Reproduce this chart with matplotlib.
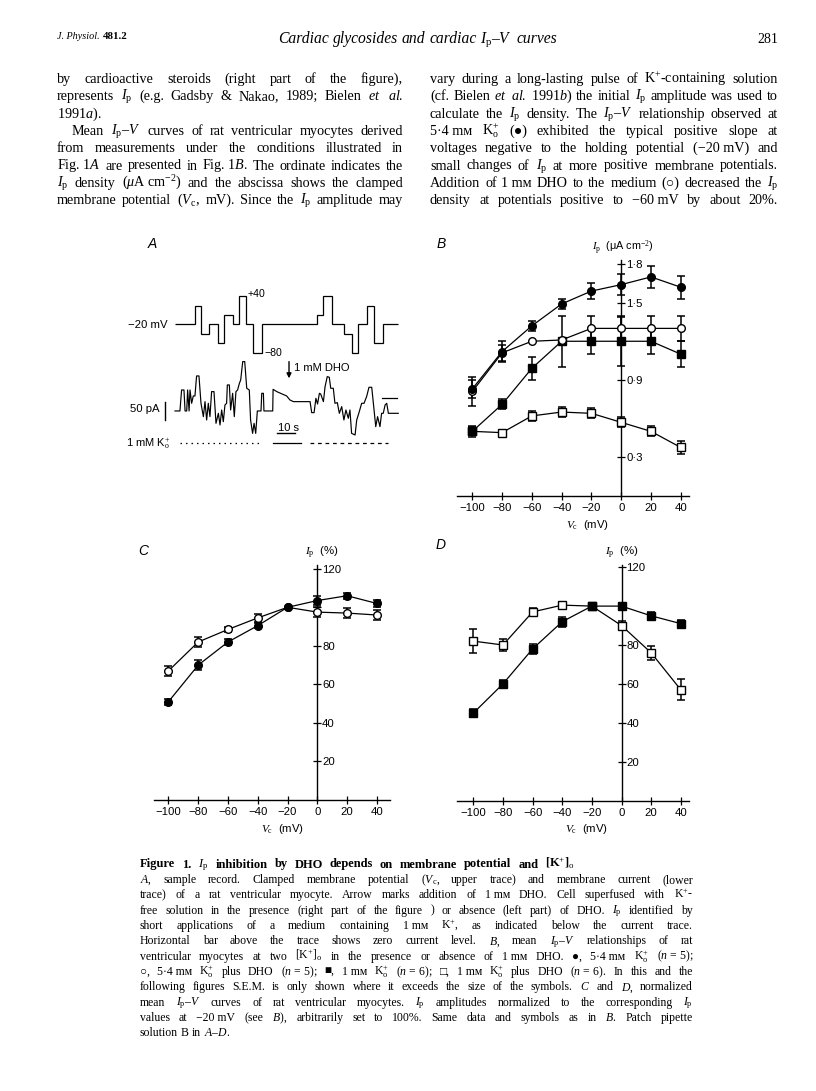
import numpy as np
import matplotlib
matplotlib.use('Agg')
import matplotlib.pyplot as plt

W, H = 816, 1091
SERIF = ['Liberation Serif', 'DejaVu Serif', 'DejaVu Sans']
SANS = ['Liberation Sans', 'DejaVu Sans']
plt.rcParams.update({
    'font.family': SERIF,
    'mathtext.fontset': 'custom',
    'mathtext.rm': 'Liberation Serif',
    'mathtext.it': 'Liberation Serif:italic',
    'mathtext.bf': 'Liberation Serif:bold',
    'mathtext.sf': 'Liberation Sans',
    'mathtext.default': 'it',
    'axes.unicode_minus': True,
})

# ------------------------------------------------------------------ data
vc_mv = [-100, -80, -60, -40, -20, 0, 20, 40]
vc_labels = ['\u2212100', '\u221280', '\u221260', '\u221240', '\u221220', '0', '20', '40']

# Panel B: Ip density (uA cm-2)
b_k54 = [0.83, 1.12, 1.32, 1.49, 1.59, 1.64, 1.70, 1.62]
b_k54_err = [0.07, 0.08, 0.04, 0.04, 0.06, 0.08, 0.085, 0.09]
b_k54_dho = [0.81, 1.11, 1.20, 1.21, 1.30, 1.30, 1.30, 1.30]
b_k54_dho_err = [0.11, 0.06, 0.0, 0.0, 0.10, 0.10, 0.10, 0.10]
b_k1 = [0.50, 0.71, 0.99, 1.20, 1.20, 1.20, 1.20, 1.10]
b_k1_err = [0.045, 0.04, 0.09, 0.20, 0.10, 0.19, 0.10, 0.10]
b_k1_dho = [0.50, 0.49, 0.62, 0.65, 0.64, 0.57, 0.50, 0.375]
b_k1_dho_err = [0.03, 0.0, 0.04, 0.04, 0.04, 0.04, 0.04, 0.05]
b_yticks = [0.3, 0.6, 0.9, 1.2, 1.5, 1.8]
b_yticklabels = ['0\u00b73', '', '0\u00b79', '', '1\u00b75', '1\u00b78']

# Panel C: normalized, 5.4 mM K+
c_k54 = [51, 70, 82, 90.5, 100, 103.5, 106, 102]
c_k54_err = [1.5, 2.5, 1.5, 1.5, 0, 2.5, 1.5, 2]
c_k54_dho = [67, 82, 88.5, 94.5, 100, 97.5, 97, 96]
c_k54_dho_err = [2.5, 2.5, 1.5, 2, 0, 2.5, 2.5, 2.5]
# Panel D: normalized, 1 mM K+
d_k1 = [45, 60, 78, 92, 100, 100, 95, 91]
d_k1_err = [2, 2, 2.5, 2.5, 0, 0, 2, 2]
d_k1_dho = [82, 80, 97, 100.5, 100, 90, 76, 57]
d_k1_dho_err = [6, 3, 2, 1.5, 0, 2.5, 3.5, 5.5]
pct_ticks = [20, 40, 60, 80, 100, 120]
pct_ticklabels = ['20', '40', '60', '80', '', '120']

# Panel A: voltage protocol (step edges in s, level in mV)
a_step_edges_s = [0, 10.9, 14.2, 18.6, 23.5, 27.0, 31.5, 35.0, 38.6, 42.8, 47.4,
                  77.4, 81.0, 85.9, 92.3, 96.5, 100.1, 104.7, 108.7, 113.4, 121.9]
a_step_mv = [-20, 20, -40, -20, -60, 0, -20, 40, -20, -80,
             -20, 0, 40, -20, -40, -80, -20, 20, -60, -20]
# Panel A: membrane current trace (s, pA)
a_cur_s = [0, 2.7, 3.6, 4.9, 5.5, 6.4, 6.9, 7.7, 8.2, 9.1, 10.0, 10.9, 11.8, 13.1, 14.2,
           15.5, 16.4, 17.3, 18.2, 19.1, 20.0, 21.3, 22.4, 23.7, 24.6, 25.5, 26.4, 27.3,
           28.2, 28.6, 29.7, 30.4, 31.5, 32.4, 33.3, 34.2, 35.2, 35.9, 37.0, 38.1, 39.2,
           40.6, 41.3, 42.4, 43.2, 44.1, 45.0, 47.0, 47.4, 48.3, 48.6, 53.4, 53.6, 55.6,
           61.0, 62.8, 64.7, 73.8, 74.7, 76.0, 77.0, 77.9, 78.9, 79.6, 81.1, 82.0, 83.2,
           84.3, 85.1, 86.5, 87.4, 88.7, 89.8, 91.1, 92.3, 93.4, 94.7, 95.6, 96.5, 98.4,
           99.3, 100.7, 102.0, 103.3, 104.7, 106.0, 107.5, 108.4, 109.7, 110.7, 112.0,
           112.9, 113.8, 114.8, 115.7, 116.6, 122.0]
a_cur_pa = [-34.5, -34.5, 22.7, 22.7, -34.5, -34.5, 22.7, -34.5, 22.7, -13.6, 6.4, 6.4,
            60.9, 60.9, -13.6, -50, -9.1, -59.1, -13.6, -50, 18.2, 18.2, -68.2, -40.9,
            -72.7, -31.8, -63.6, -18.2, -13.6, 36.4, 36.4, -31.8, 13.6, -50, 18.2, 22.7,
            40.9, 50, 100, 100, 27.3, 22.7, -59.1, -95.5, -68.2, -95.5, -34.5, -34.5,
            13.6, 13.6, -34.5, -34.5, 24.5, 18.2, 6.4, -4.5, -9.1, -9.1, -39.1, -39.1, 0,
            -15.5, 13.6, 11.8, -9.1, 31.8, 59.1, 57.3, 27.3, 27.3, -13.6, -11.8, -40.9,
            -22.7, -59.1, -31.8, -54.5, -31.8, -95.5, -100, -59.1, -36.4, -13.6, -13.6,
            4.5, 30, 30, -13.6, -77.3, -50, -77.3, -40.9, -40.9, -18.2, -13.6, -40.9, -40.9]
a_zero_bar_s = [113.2, 121.4]
a_k1_dotted_s = [2.7, 47.4]
a_k1_solid_s = [53.7, 68.6]
a_k1_dashed_s = [73.8, 116.6]
a_dho_time_s = 62.3

# ------------------------------------------------------------------ text
header_left = 'J. Physiol.'
header_vol = '481.2'
title_text = 'Cardiac glycosides and cardiac $I_\\mathrm{p}$\u2013$V$ curves'
page_no = '281'

left_col = [
    ('by cardioactive steroids (right part of the figure),', True, 0),
    (r'represents $I_\mathrm{p}$ (e.g. Gadsby & Nakao, 1989; Bielen $et$ $al.$', True, 0),
    (r'1991$a$).', False, 0),
    (r'Mean $I_\mathrm{p}$–$V$ curves of rat ventricular myocytes derived', True, 15),
    ('from measurements under the conditions illustrated in', True, 0),
    (r'Fig.~1$A$ are presented in Fig.~1$B$. The ordinate indicates the', True, 0),
    (r'$I_\mathrm{p}$ density ($\mu$A~cm$^{-2}$) and the abscissa shows the clamped', True, 0),
    (r'membrane potential ($V_\mathrm{c}$, mV). Since the $I_\mathrm{p}$ amplitude may', True, 0),
]
right_col = [
    (r'vary during a long-lasting pulse of K$^{+}$-containing solution', True, 0),
    (r'(cf. Bielen $et$ $al.$ 1991$b$) the initial $I_\mathrm{p}$ amplitude was used to', True, 0),
    (r'calculate the $I_\mathrm{p}$ density. The $I_\mathrm{p}$–$V$ relationship observed at', True, 0),
    (r'5·4~mᴍ K$^{+}_\mathrm{o}$ (●) exhibited the typical positive slope at', True, 0),
    ('voltages negative to the holding potential (−20~mV) and', True, 0),
    (r'small changes of $I_\mathrm{p}$ at more positive membrane potentials.', True, 0),
    (r'Addition of 1~mᴍ DHO to the medium (○) decreased the $I_\mathrm{p}$', True, 0),
    ('density at potentials positive to −60~mV by about 20%.', True, 0),
]
caption_title = r'Figure 1. $I_\mathrm{p}$ inhibition by DHO depends on membrane potential and [K$^{+}$]$_\mathrm{o}$'
caption_lines = [
    (r'$A$, sample record. Clamped membrane potential ($V_\mathrm{c}$, upper trace) and membrane current (lower', True),
    (r'trace) of a rat ventricular myocyte. Arrow marks addition of 1~mᴍ DHO. Cell superfused with K$^{+}$-', True),
    (r'free solution in the presence (right part of the figure ) or absence (left part) of DHO. $I_\mathrm{p}$ identified by', True),
    (r'short applications of a medium containing 1~mᴍ K$^{+}$, as indicated below the current trace.', True),
    (r'Horizontal bar above the trace shows zero current level. $B$, mean $I_\mathrm{p}$–$V$ relationships of rat', True),
    (r'ventricular myocytes at two [K$^{+}$]$_\mathrm{o}$ in the presence or absence of 1~mᴍ DHO. ●, 5·4~mᴍ K$^{+}_\mathrm{o}$ ($n$~=~5);', True),
    (r'○, 5·4~mᴍ K$^{+}_\mathrm{o}$ plus DHO ($n$~=~5); ■, 1~mᴍ K$^{+}_\mathrm{o}$ ($n$~=~6); □, 1~mᴍ K$^{+}_\mathrm{o}$ plus DHO ($n$~=~6). In this and the', True),
    (r'following figures S.E.M. is only shown where it exceeds the size of the symbols. $C$ and $D$, normalized', True),
    (r'mean $I_\mathrm{p}$–$V$ curves of rat ventricular myocytes. $I_\mathrm{p}$ amplitudes normalized to the corresponding $I_\mathrm{p}$', True),
    (r'values at −20~mV (see $B$), arbitrarily set to 100%. Same data and symbols as in $B$. Patch pipette', True),
    (r'solution B in $A$–$D$.', False),
]

# ------------------------------------------------------------------ figure
fig = plt.figure(figsize=(W / 100, H / 100), dpi=100)
fig.patch.set_facecolor('white')
renderer = fig.canvas.get_renderer()


def fx(x):
    return x / W


def fy(y):
    return 1 - y / H


def put_line(text, x0, x1, yb, size, justify=True, indent=0, **kw):
    words = [w.replace('~', ' ') for w in text.split(' ') if w]
    objs = [fig.text(0, 0, w, fontsize=size, va='baseline', ha='left', **kw) for w in words]
    ws = [o.get_window_extent(renderer).width for o in objs]
    space = size * 100 / 72 * 0.25
    if justify and len(words) > 1:
        gap = (x1 - x0 - indent - sum(ws)) / (len(words) - 1)
        if gap < space * 0.9:
            scale = (x1 - x0 - indent - (len(words) - 1) * space * 0.9) / sum(ws)
            for o in objs:
                o.set_fontsize(size * scale)
            ws = [o.get_window_extent(renderer).width for o in objs]
            gap = (x1 - x0 - indent - sum(ws)) / (len(words) - 1)
    else:
        gap = space
    x = x0 + indent
    for o, w in zip(objs, ws):
        o.set_position((fx(x), fy(yb)))
        x += w + gap
    return objs


# header
t = fig.text(fx(57), fy(39), header_left, fontsize=7.3, style='italic', va='baseline')
wj = t.get_window_extent(renderer).width
fig.text(fx(57 + wj + 3), fy(39), header_vol, fontsize=7.8, weight='bold', va='baseline')
put_line(title_text, 278, 557, 43, 12.3, style='italic')
fig.text(fx(778), fy(43), page_no, fontsize=10, ha='right', va='baseline')

# body columns
for i, (line, just, ind) in enumerate(left_col):
    put_line(line, 57, 403, 83 + i * 17.3, 10.2, justify=just, indent=ind)
for i, (line, just, ind) in enumerate(right_col):
    put_line(line, 430, 778, 83 + i * 17.3, 10.2, justify=just, indent=ind)

# caption
put_line(caption_title, 140, 575, 867.5, 9.0, weight='bold')
for i, (line, just) in enumerate(caption_lines):
    put_line(line, 140, 693, 867.5 + (i + 1) * 15.35, 8.5, justify=just)


# ------------------------------------------------------------------ panels helpers
def add_axes_map(px0, kx, py0, ky, xlim, ylim):
    left = px0 + kx * xlim[0]
    right = px0 + kx * xlim[1]
    bottom = py0 - ky * ylim[0]
    top = py0 - ky * ylim[1]
    ax = fig.add_axes([fx(left), fy(bottom), (right - left) / W, (bottom - top) / H])
    ax.set_xlim(xlim)
    ax.set_ylim(ylim)
    ax.patch.set_alpha(0)
    return ax


def style_iv_axes(ax, yticks, yticklabels):
    ax.spines['top'].set_visible(False)
    ax.spines['left'].set_visible(False)
    ax.spines['right'].set_position(('data', 0))
    ax.spines['right'].set_linewidth(1.0)
    ax.spines['bottom'].set_linewidth(1.0)
    ax.yaxis.set_ticks_position('right')
    ax.xaxis.set_ticks_position('bottom')
    ax.set_xticks(vc_mv)
    ax.set_xticklabels(vc_labels)
    ax.set_yticks(yticks)
    ax.set_yticklabels(yticklabels)
    ax.tick_params(axis='both', direction='inout', length=6, width=0.9,
                   labelsize=8.2, labelfontfamily='Liberation Sans')
    ax.tick_params(axis='x', pad=2.2)
    ax.tick_params(axis='y', pad=0.5)


def series(ax, y, err, filled, marker):
    y = np.asarray(y, float)
    err = np.asarray(err, float)
    x = np.asarray(vc_mv, float)
    m = err > 0
    ax.errorbar(x[m], y[m], yerr=err[m], fmt='none', ecolor='black', elinewidth=1.1,
                capsize=2.6, capthick=1.1, clip_on=False, zorder=2)
    ax.plot(x, y, color='black', lw=0.9, marker=marker, ms=5.5,
            mfc='black' if filled else 'white', mec='black', mew=1.0,
            clip_on=False, zorder=3)


def sans_text(x, y, s, size=8, **kw):
    kw.setdefault('family', SANS)
    return fig.text(fx(x), fy(y), s, fontsize=size, **kw)


# ------------------------------------------------------------------ panel B
axB = add_axes_map(621.2, 1.4886, 495.7, 128.7, (-110.5, 45.6), (0, 1.83))
style_iv_axes(axB, b_yticks, b_yticklabels)
series(axB, b_k1_dho, b_k1_dho_err, False, 's')
series(axB, b_k1, b_k1_err, True, 's')
series(axB, b_k54_dho, b_k54_dho_err, False, 'o')
series(axB, b_k54, b_k54_err, True, 'o')
sans_text(623, 248, r'$I_\mathrm{p}$  (μA cm$^{-2}$)', 7.8, ha='center', va='center')
sans_text(588, 525, r'$V_\mathrm{c}$  (mV)', 8.2, ha='center', va='center')

# ------------------------------------------------------------------ panel C
axC = add_axes_map(317.3, 1.4886, 800.0, 1.927, (-110, 49), (0, 122))
style_iv_axes(axC, pct_ticks, pct_ticklabels)
series(axC, c_k54_dho, c_k54_dho_err, False, 'o')
series(axC, c_k54, c_k54_err, True, 'o')
sans_text(322, 553, r'$I_\mathrm{p}$  (%)', 8.2, ha='center', va='center')
sans_text(283, 829, r'$V_\mathrm{c}$  (mV)', 8.2, ha='center', va='center')

# ------------------------------------------------------------------ panel D
axD = add_axes_map(621.5, 1.4814, 800.6, 1.945, (-110.8, 45.6), (0, 121))
style_iv_axes(axD, pct_ticks, pct_ticklabels)
series(axD, d_k1_dho, d_k1_dho_err, False, 's')
series(axD, d_k1, d_k1_err, True, 's')
sans_text(621.5, 553, r'$I_\mathrm{p}$  (%)', 8.2, ha='center', va='center')
sans_text(587, 829, r'$V_\mathrm{c}$  (mV)', 8.2, ha='center', va='center')

# ------------------------------------------------------------------ panel A
# voltage trace axes: px = 175 + 1.83 t ; py = 324.3 - 0.47 (V + 20)
axV = add_axes_map(175, 1.83, 324.3 - 0.47 * 20, 0.47, (-40.98, 133.88), (-117.2, 74.3))
axV.axis('off')
axV.stairs(a_step_mv, a_step_edges_s, baseline=None, color='black', lw=0.9)
# current trace axes: py = 398.3 - 0.367 I
axI = add_axes_map(175, 1.83, 398.3, 0.367, (-40.98, 133.88), (-168.1, 104.4))
axI.axis('off')
axI.plot(a_cur_s, a_cur_pa, color='black', lw=0.85)
axI.plot(a_zero_bar_s, [0, 0], color='black', lw=0.9)
# 50 pA scale bar
axI.plot([-5.5, -5.5], [-9.3, -59.3], color='black', lw=1.0)
# 10 s scale bar
axI.plot([55.5, 65.5], [-95.4, -95.4], color='black', lw=1.0)
# 1 mM K+ applications
axI.plot(a_k1_dotted_s, [-122.6, -122.6], color='black', lw=0.9, dashes=(1.2, 3.2))
axI.plot(a_k1_solid_s, [-122.6, -122.6], color='black', lw=0.9)
axI.plot(a_k1_dashed_s, [-122.6, -122.6], color='black', lw=0.9, dashes=(3.0, 3.0))
# DHO arrow
axI.annotate('', xy=(a_dho_time_s, 54.5), xytext=(a_dho_time_s, 100),
             arrowprops=dict(arrowstyle='-|>', color='black', lw=1.0,
                             mutation_scale=7, shrinkA=0, shrinkB=0))

sans_text(168, 325, '\u221220 mV', 8.2, ha='right', va='center')
sans_text(248, 294, '+40', 7.6, ha='left', va='center')
sans_text(264, 353, '\u221280', 7.6, ha='left', va='center')
sans_text(294, 368, '1 mM DHO', 8, ha='left', va='center')
sans_text(160, 409, '50 pA', 8.2, ha='right', va='center')
sans_text(288, 428, '10 s', 8, ha='center', va='center')
sans_text(170, 444, r'1 mM K$^{+}_\mathrm{o}$', 8, ha='right', va='center')

# panel letters
for (x, y, s) in [(152, 244, 'A'), (441, 244, 'B'), (143, 551, 'C'), (441, 545, 'D')]:
    sans_text(x, y, s, 10, ha='center', va='center', style='italic')

fig.savefig('out.png', dpi=100, facecolor='white')
